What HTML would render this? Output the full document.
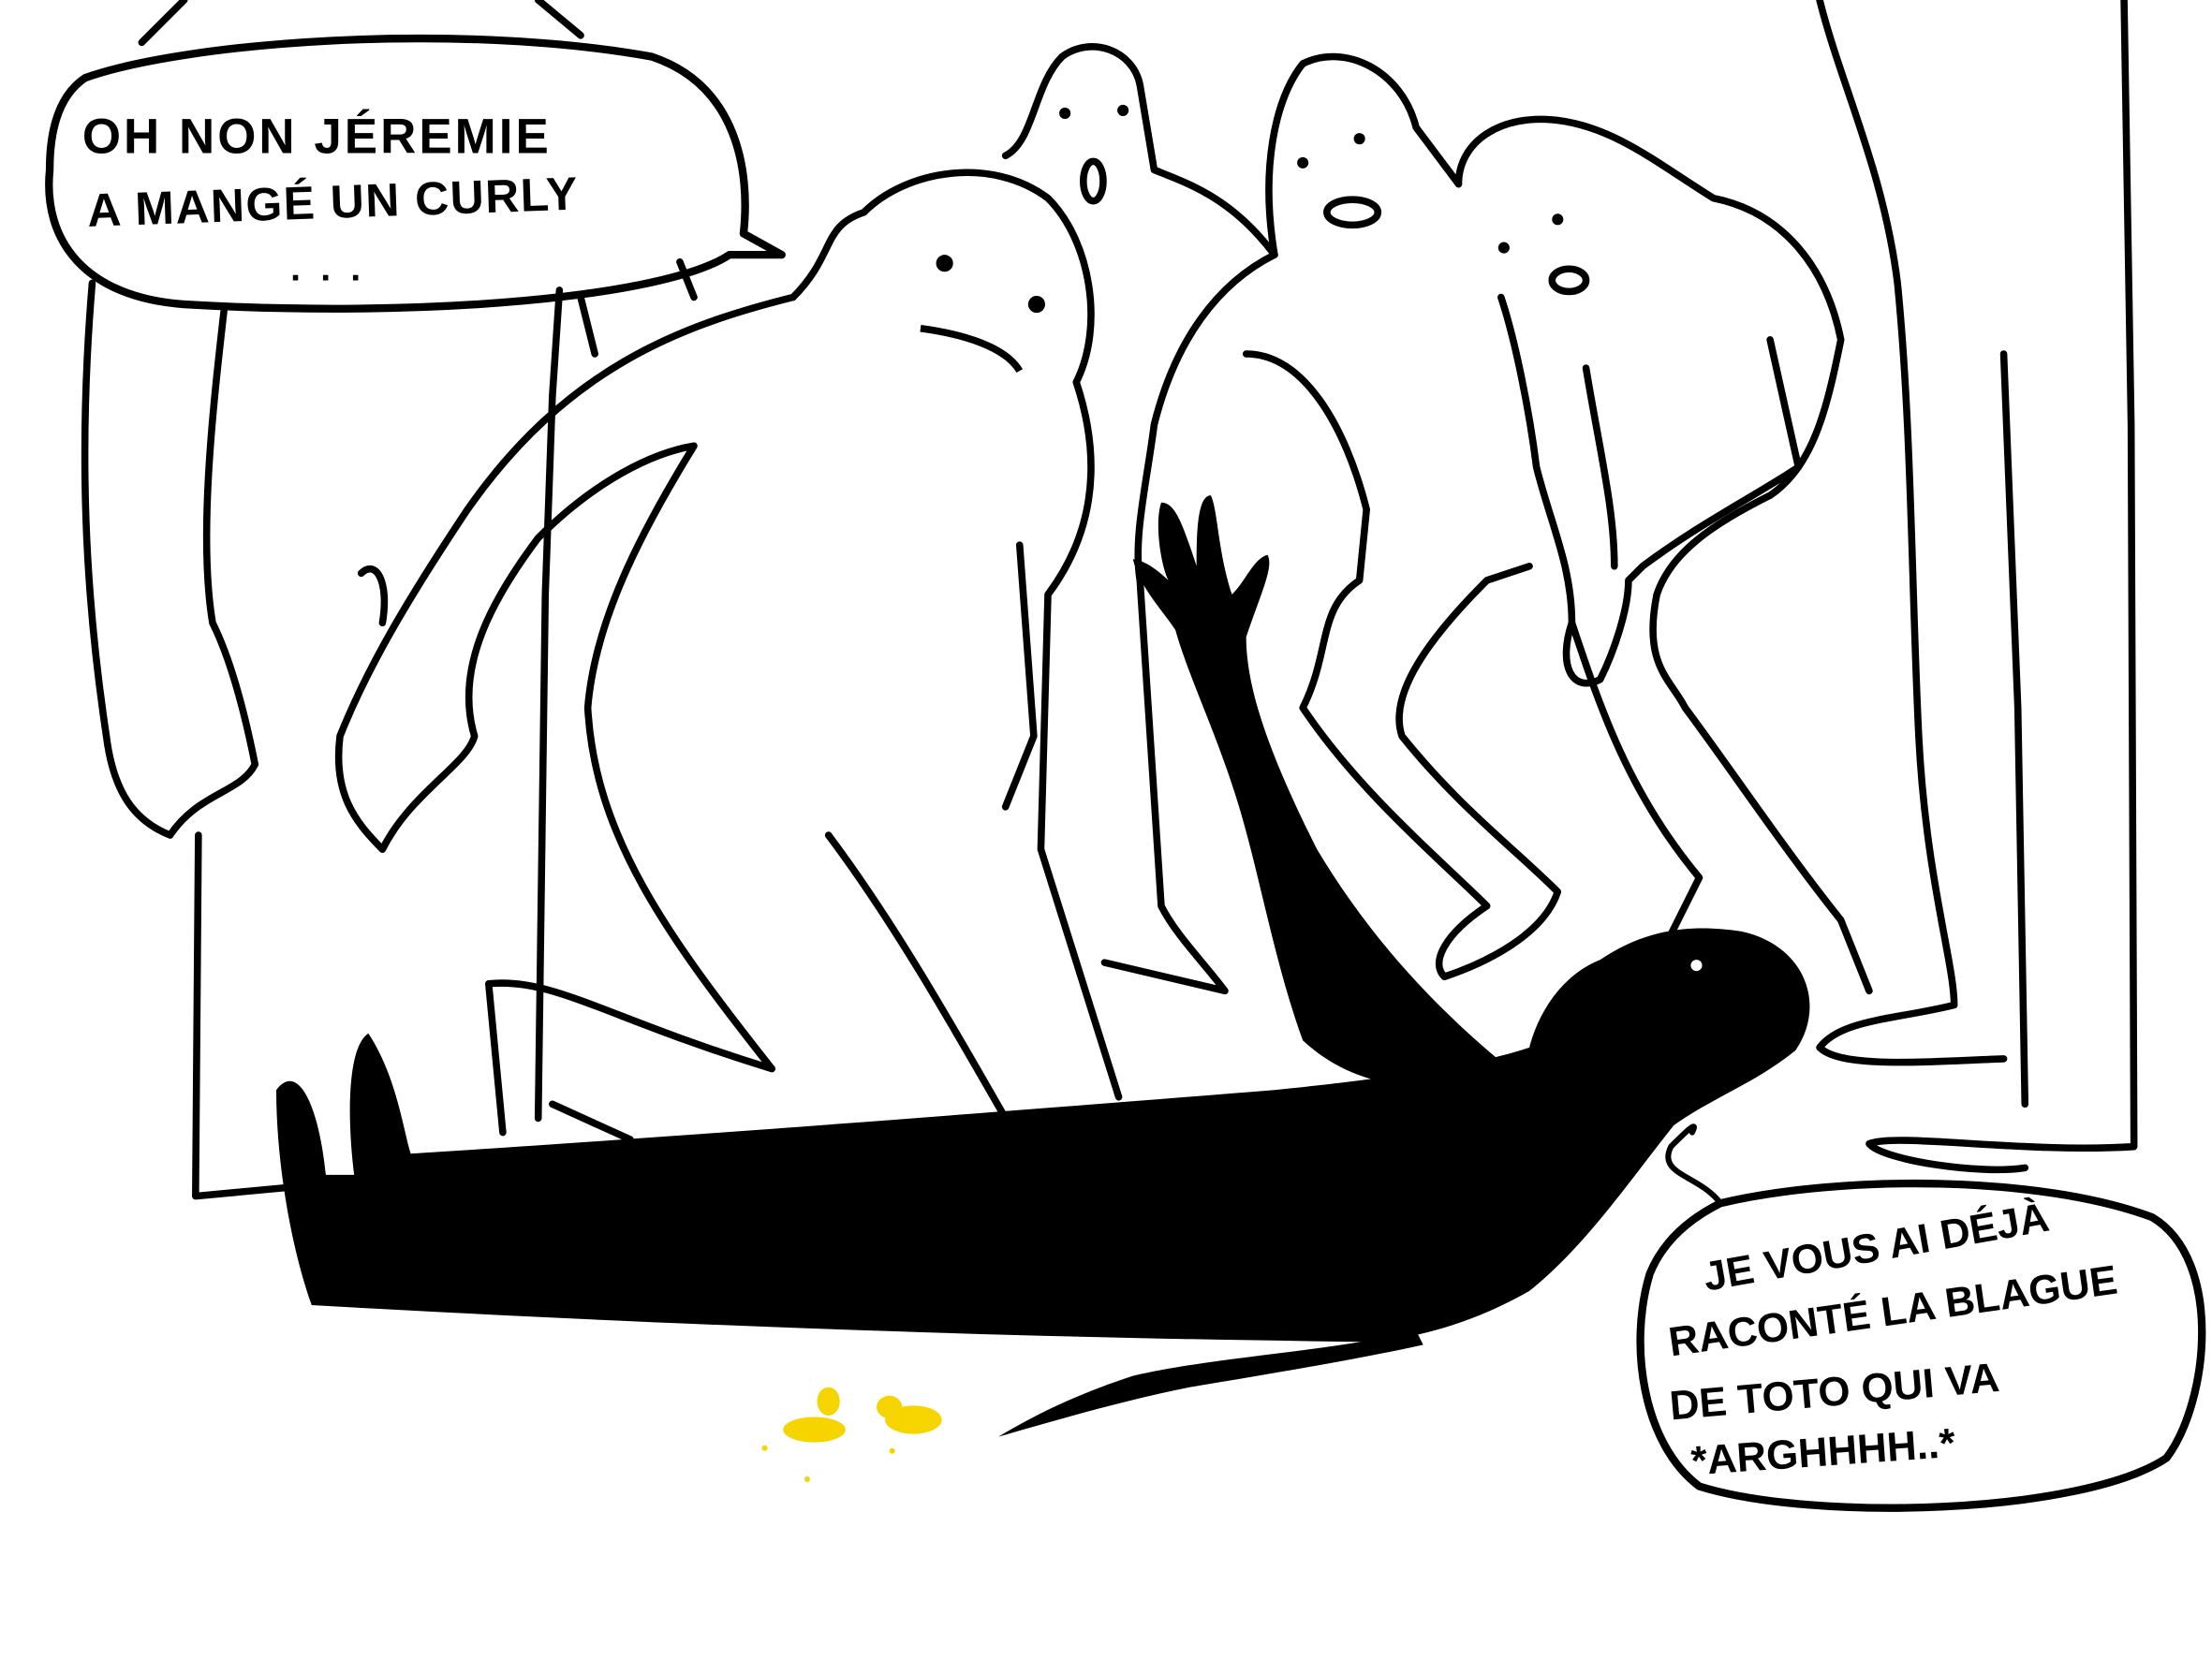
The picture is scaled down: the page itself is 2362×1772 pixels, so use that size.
<!DOCTYPE html>
<html><head><meta charset="utf-8"><style>
html,body{margin:0;padding:0;background:#fff;}
svg{display:block}
text{font-family:"Liberation Sans",sans-serif;font-weight:bold;fill:#000;}
</style></head><body>
<svg width="2362" height="1772" viewBox="0 0 1562 1172" xmlns="http://www.w3.org/2000/svg">
<rect width="1562" height="1172" fill="#fff"/>
<g fill="none" stroke="#000" stroke-width="5" stroke-linecap="round" stroke-linejoin="round">
<path d="M100,30 L130,0 M380,0 L410,25"/>
<path d="M65,200 C55,320 60,420 75,520 C80,560 95,580 120,590 C140,560 170,560 180,540 C170,490 160,460 150,440 C140,380 150,290 158,220"/>
<path d="M140,590 L138,845 L245,835"/>
<path d="M395,205 L390,280 L385,420 L380,790"/>
<path d="M410,210 L420,250 M480,185 L490,210"/>
<path d="M560,210 C590,180 580,160 610,150 C640,120 700,110 740,140 C770,170 780,230 760,270 C780,330 770,380 740,420 L735,600 L790,775"/>
<path d="M560,210 C480,230 400,260 330,360 C290,420 260,470 240,520 C235,560 250,580 270,600 C290,560 330,540 335,520 C320,470 350,420 380,380 C420,340 460,320 490,315 C450,380 420,440 415,500 C420,590 470,660 545,755"/>
<path d="M720,385 L730,520 L710,570"/>
<path d="M585,590 C630,650 670,720 710,790"/>
<path d="M345,695 C390,690 430,720 545,755 M345,695 L355,800 M390,780 L445,805"/>
<path d="M255,405 C265,395 275,410 270,440"/>
<path d="M710,110 C730,100 730,60 750,40 C770,25 800,35 805,60 L815,120 C840,130 870,140 900,180"/>
<path d="M900,180 C890,120 900,70 920,45 C950,30 990,50 1000,90 L1030,130"/>
<path d="M900,180 C860,200 830,240 815,300 C810,340 800,380 805,410 L820,640 C830,660 850,680 865,700 L780,680"/>
<path d="M880,250 C920,250 950,300 965,360 L960,410 C930,430 940,460 920,500 C960,560 1020,610 1050,640 C1020,660 1010,680 1020,690 C1050,680 1090,660 1100,630 C1070,600 1030,570 990,520 C980,490 1010,450 1050,410 L1080,400"/>
<path d="M1030,130 C1030,100 1060,80 1100,85 C1140,90 1170,115 1210,140 C1260,150 1290,190 1300,240 C1290,290 1280,330 1250,350 C1210,370 1180,390 1170,420 C1160,470 1180,480 1190,500 C1220,540 1260,600 1300,650 L1320,700"/>
<path d="M1060,210 C1070,240 1080,290 1085,330 C1095,370 1110,400 1110,440 C1100,470 1110,490 1130,480 C1140,460 1150,430 1150,410 L1160,400 C1200,370 1240,350 1270,330 L1250,240"/>
<path d="M1110,440 C1130,500 1150,560 1200,620 L1180,660 M1120,260 C1130,320 1140,360 1140,400"/>
<path d="M1285,0 C1300,60 1330,120 1340,200 C1350,300 1350,420 1355,520 C1360,620 1380,680 1380,710 C1340,720 1300,720 1285,740 C1300,755 1360,750 1415,748"/>
<path d="M1500,0 L1505,300 L1507,810 C1430,815 1340,800 1320,808 C1330,820 1400,830 1430,825"/>
<path d="M1415,250 L1425,500 L1430,780"/>
<path d="M60,55 C130,30 320,15 460,40 C520,60 530,120 525,165 L552,180 L515,180 C470,210 300,225 130,215 C60,210 30,170 35,120 C35,85 45,65 60,55 Z" stroke-width="5.5"/>
<path d="M1215,850 C1300,830 1440,830 1520,860 C1570,890 1560,990 1530,1030 C1470,1070 1280,1075 1200,1050 C1160,1020 1150,950 1165,900 C1175,875 1195,860 1215,850 Z" stroke-width="5.5"/>
<path d="M1215,850 C1200,830 1170,830 1180,810 C1190,800 1200,790 1195,800" stroke-width="4"/>
</g>
<g fill="#000">
<circle cx="667" cy="186" r="6"/><circle cx="732" cy="215" r="6"/>
<circle cx="752" cy="80" r="4"/><circle cx="793" cy="78" r="4"/>
<circle cx="920" cy="115" r="4"/><circle cx="960" cy="98" r="4"/>
<circle cx="1062" cy="175" r="4"/><circle cx="1100" cy="155" r="4"/>
</g>
<g fill="none" stroke="#000" stroke-width="5">
<path d="M650,232 C680,236 710,245 720,262"/>
<ellipse cx="772" cy="128" rx="7" ry="14"/>
<ellipse cx="955" cy="150" rx="18" ry="9"/>
<ellipse cx="1108" cy="198" rx="12" ry="8"/>
</g>
<path fill="#000" d="M195,770 C210,750 225,780 230,830 L250,830 C245,790 245,740 260,730 C280,760 285,800 290,815 C450,805 650,790 900,770 C1000,760 1050,750 1080,740 C1085,720 1100,690 1130,678 C1160,658 1190,652 1230,658 C1275,668 1290,710 1268,742 C1240,765 1210,775 1182,795 C1150,835 1120,880 1080,912 C1040,935 1000,945 970,948 C700,945 450,935 220,922 C205,880 195,820 195,770 Z"/>
<path fill="#000" d="M1000,940 C940,955 860,958 800,972 C760,985 730,1000 705,1015 C740,1005 790,990 840,980 C900,970 960,960 1005,950 Z"/>
<path fill="#000" d="M1060,750 C1000,700 960,650 930,600 C900,540 880,490 880,450 C890,420 900,400 895,392 C885,395 880,410 870,420 C860,390 860,360 855,350 C845,350 845,380 845,400 C835,370 830,355 820,355 C815,370 820,400 825,410 C815,400 805,395 800,395 C805,415 820,430 830,445 C840,480 860,520 875,570 C890,620 900,680 920,735 C960,772 1010,772 1060,762 Z"/>
<circle cx="1198" cy="682" r="4" fill="#fff"/>
<g fill="#f5d400">
<ellipse cx="575" cy="1010" rx="22" ry="9"/><ellipse cx="585" cy="990" rx="8" ry="10"/>
<ellipse cx="645" cy="1003" rx="20" ry="10"/><ellipse cx="628" cy="994" rx="9" ry="8"/>
<circle cx="630" cy="1025" r="2"/><circle cx="540" cy="1023" r="2"/><circle cx="570" cy="1045" r="2"/>
</g>
<text x="58" y="108" font-size="35" letter-spacing="2">OH NON JÉREMIE</text>
<text x="62" y="160" font-size="33" letter-spacing="1" transform="rotate(-2 62 160)">A MANGÉ UN CURLY</text>
<text x="205" y="198" font-size="26" letter-spacing="14">...</text>
<g font-size="29">
<text x="1205" y="912" transform="rotate(-10 1205 912)">JE VOUS AI DÉJÀ</text>
<text x="1180" y="958" transform="rotate(-8 1180 958)">RACONTÉ LA BLAGUE</text>
<text x="1180" y="1003" transform="rotate(-5 1180 1003)">DE TOTO QUI VA</text>
<text x="1195" y="1042" transform="rotate(-4 1195 1042)">*ARGHHHH..*</text>
</g>
</svg>
</body></html>
